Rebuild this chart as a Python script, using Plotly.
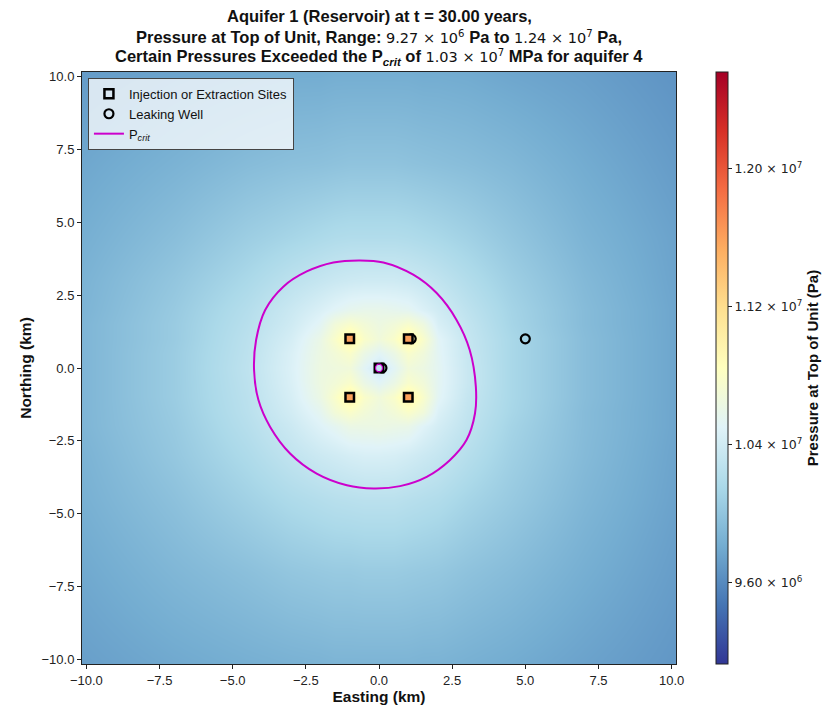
import plotly.graph_objects as go

# --- Pressure field at the top of aquifer 1, sampled on a grid (km) ---
grid_x = [-10.15, -7, -4.5, -3, -2, -1.5, -1, -0.5, 0, 0.5, 1, 1.5, 2, 3, 4.5, 7, 10.15]
grid_y = [-10.15, -7, -4.5, -3, -2, -1.5, -1, -0.5, 0, 0.5, 1, 1.5, 2, 3, 4.5, 7, 10.15]

# rows follow grid_y (south to north), columns follow grid_x (west to east); values in MPa
pressure_mpa = [
    [9.73, 9.79, 9.83, 9.85, 9.86, 9.87, 9.87, 9.87, 9.87, 9.87, 9.87, 9.86, 9.86, 9.84, 9.81, 9.75, 9.68],
    [9.79, 9.89, 9.96, 10.01, 10.03, 10.04, 10.04, 10.05, 10.05, 10.05, 10.04, 10.03, 10.02, 9.98, 9.93, 9.83, 9.72],
    [9.84, 9.97, 10.10, 10.18, 10.22, 10.24, 10.25, 10.26, 10.26, 10.26, 10.24, 10.22, 10.20, 10.13, 10.04, 9.89, 9.75],
    [9.86, 10.02, 10.18, 10.30, 10.37, 10.40, 10.43, 10.45, 10.45, 10.44, 10.41, 10.37, 10.33, 10.23, 10.09, 9.92, 9.76],
    [9.88, 10.04, 10.23, 10.37, 10.49, 10.55, 10.62, 10.62, 10.63, 10.61, 10.60, 10.50, 10.42, 10.29, 10.12, 9.93, 9.77],
    [9.88, 10.05, 10.25, 10.41, 10.55, 10.70, 10.78, 10.70, 10.64, 10.70, 10.78, 10.68, 10.47, 10.31, 10.14, 9.93, 9.77],
    [9.88, 10.06, 10.26, 10.44, 10.62, 10.78, 11.00, 10.78, 10.68, 10.78, 11.00, 10.77, 10.53, 10.33, 10.15, 9.94, 9.77],
    [9.88, 10.06, 10.27, 10.46, 10.64, 10.70, 10.78, 10.62, 10.52, 10.62, 10.77, 10.69, 10.54, 10.35, 10.15, 9.94, 9.77],
    [9.88, 10.06, 10.28, 10.47, 10.64, 10.66, 10.68, 10.52, 10.38, 10.52, 10.68, 10.63, 10.54, 10.35, 10.15, 9.94, 9.77],
    [9.88, 10.06, 10.27, 10.46, 10.63, 10.70, 10.78, 10.62, 10.52, 10.62, 10.77, 10.68, 10.53, 10.34, 10.15, 9.94, 9.77],
    [9.88, 10.05, 10.26, 10.43, 10.61, 10.78, 11.00, 10.78, 10.68, 10.78, 11.00, 10.77, 10.52, 10.33, 10.15, 9.94, 9.77],
    [9.88, 10.05, 10.24, 10.39, 10.53, 10.69, 10.77, 10.70, 10.64, 10.69, 10.76, 10.65, 10.45, 10.31, 10.13, 9.93, 9.77],
    [9.87, 10.04, 10.22, 10.36, 10.46, 10.52, 10.57, 10.59, 10.59, 10.57, 10.55, 10.47, 10.40, 10.28, 10.12, 9.93, 9.77],
    [9.86, 10.01, 10.16, 10.27, 10.33, 10.36, 10.38, 10.39, 10.39, 10.39, 10.37, 10.34, 10.30, 10.21, 10.08, 9.91, 9.76],
    [9.83, 9.95, 10.07, 10.13, 10.17, 10.19, 10.20, 10.20, 10.20, 10.20, 10.19, 10.17, 10.15, 10.10, 10.01, 9.87, 9.75],
    [9.78, 9.86, 9.93, 9.96, 9.97, 9.98, 9.99, 9.99, 9.99, 9.99, 9.98, 9.97, 9.96, 9.94, 9.90, 9.81, 9.71],
    [9.71, 9.76, 9.79, 9.81, 9.81, 9.82, 9.82, 9.82, 9.82, 9.82, 9.82, 9.81, 9.81, 9.80, 9.77, 9.73, 9.66],
]

# --- Wells ---
site_x = [-1, 1, -1, 1, 0]
site_y = [1, 1, -1, -1, 0]
site_pressure = [1.16e7, 1.16e7, 1.16e7, 1.16e7, 1.03e7]

leak_x = [0.1, 1.1, 5.0]
leak_y = [0.0, 1.0, 1.0]

# --- Critical pressure contour (P_crit = 1.03e7 Pa) ---
pcrit_x = [-0.65, 0.15, 1.17, 1.97, 2.65, 3.10, 3.31, 3.28, 2.99, 2.42, 1.63, 0.72,
           -0.19, -1.10, -2.13, -3.04, -3.72, -4.12, -4.27, -4.20, -3.89, -3.27,
           -2.47, -1.56, -0.65]
pcrit_y = [3.69, 3.62, 3.20, 2.57, 1.65, 0.62, -0.64, -1.56, -2.47, -3.16, -3.73,
           -4.05, -4.13, -4.02, -3.62, -2.93, -2.02, -1.10, -0.07, 0.96, 1.99,
           2.79, 3.31, 3.62, 3.69]
# small closed contour around the extraction well
pcrit_inner_x = [0.12, 0.08, 0.0, -0.08, -0.12, -0.08, 0.0, 0.08, 0.12]
pcrit_inner_y = [0.0, 0.10, 0.13, 0.10, 0.0, -0.10, -0.13, -0.10, 0.0]

# colour bar
cbar_min, cbar_max = 9.13e6, 1.256e7
cbar_ticks = [9.6e6, 1.04e7, 1.12e7, 1.2e7]
cbar_labels = ["9.60 × 10<sup>6</sup>", "1.04 × 10<sup>7</sup>",
               "1.12 × 10<sup>7</sup>", "1.20 × 10<sup>7</sup>"]

axis_ticks = [-10, -7.5, -5, -2.5, 0, 2.5, 5, 7.5, 10]

TEXT = "Liberation Sans, Arial, sans-serif"
MATH = "DejaVu Sans, sans-serif"
MAGENTA = "#cc00cc"

pressure_pa = [[v * 1e6 for v in row] for row in pressure_mpa]

fig = go.Figure()

fig.add_trace(go.Heatmap(
    x=grid_x, y=grid_y, z=pressure_pa, zsmooth="best",
    coloraxis="coloraxis", showlegend=False, hoverinfo="skip",
))

fig.add_trace(go.Scatter(
    x=pcrit_x, y=pcrit_y, mode="lines", line=dict(color=MAGENTA, width=2, shape="spline"),
    showlegend=False, hoverinfo="skip",
))

fig.add_trace(go.Scatter(
    x=leak_x, y=leak_y, mode="markers",
    marker=dict(symbol="circle-open", size=9, color="black", line=dict(width=2.2, color="black")),
    showlegend=False,
))

fig.add_trace(go.Scatter(
    x=site_x, y=site_y, mode="markers",
    marker=dict(symbol="square", size=8.5, color=site_pressure, coloraxis="coloraxis",
                line=dict(width=2.5, color="black")),
    showlegend=False,
))

fig.add_trace(go.Scatter(
    x=pcrit_inner_x, y=pcrit_inner_y, mode="lines",
    line=dict(color=MAGENTA, width=1.2, shape="spline"),
    showlegend=False, hoverinfo="skip",
))

# legend entries
fig.add_trace(go.Scatter(
    x=[None], y=[None], mode="markers", name="Injection or Extraction Sites",
    marker=dict(symbol="square-open", size=9, color="black", line=dict(width=2.5, color="black")),
))
fig.add_trace(go.Scatter(
    x=[None], y=[None], mode="markers", name="Leaking Well",
    marker=dict(symbol="circle-open", size=9, color="black", line=dict(width=2.2, color="black")),
))
fig.add_trace(go.Scatter(
    x=[None], y=[None], mode="lines", name="P<sub><i>crit</i></sub>",
    line=dict(color=MAGENTA, width=2),
))

axis_common = dict(
    range=[-10.15, 10.15], tickvals=axis_ticks, tickformat=".1f",
    ticks="outside", ticklen=4, tickcolor="#222", tickfont=dict(family=TEXT, size=13, color="#222"),
    showline=True, linecolor="#222", linewidth=1, mirror=True,
    showgrid=False, zeroline=False,
)

fig.update_layout(
    width=826, height=707,
    margin=dict(l=82, r=150, t=72, b=43, autoexpand=False),
    paper_bgcolor="white", plot_bgcolor="white",
    font=dict(family=TEXT, size=12, color="#111"),
    xaxis=dict(**axis_common, title=dict(text="<b>Easting (km)</b>", font=dict(size=15.5, family=TEXT), standoff=3)),
    yaxis=dict(**axis_common, title=dict(text="<b>Northing (km)</b>", font=dict(size=15.5, family=TEXT), standoff=6)),
    coloraxis=dict(
        colorscale="RdYlBu", reversescale=True, cmin=cbar_min, cmax=cbar_max,
        colorbar=dict(
            x=1.0675, xanchor="left", xref="paper", y=0.5, yanchor="middle",
            len=1, lenmode="fraction", thickness=12, ypad=0, xpad=0,
            outlinecolor="#222", outlinewidth=1,
            tickvals=cbar_ticks, ticktext=cbar_labels, ticks="outside", ticklen=4, tickcolor="#222",
            tickfont=dict(family=MATH, size=12.5, color="#222"),
            title=dict(text="<b>Pressure at Top of Unit (Pa)</b>", side="right",
                       font=dict(family=TEXT, size=15, color="#111")),
        ),
    ),
    legend=dict(
        x=0.01, y=0.99, xanchor="left", yanchor="top",
        bgcolor="rgba(255,255,255,0.75)", bordercolor="#444", borderwidth=1,
        font=dict(family=TEXT, size=13, color="#111"), tracegroupgap=0,
    ),
)

def m(s):
    return f'<span style="font-family:{MATH};font-weight:normal;font-size:14.5px">{s}</span>'

title_lines = [
    "<b>Aquifer 1 (Reservoir) at t = 30.00 years,</b>",
    "<b>Pressure at Top of Unit, Range: </b>" + m("9.27 × 10<sup>6</sup>")
    + "<b> Pa to </b>" + m("1.24 × 10<sup>7</sup>") + "<b> Pa,</b>",
    "<b>Certain Pressures Exceeded the P<sub><i>crit</i></sub> of </b>" + m("1.03 × 10<sup>7</sup>")
    + "<b> MPa for aquifer 4</b>",
]
title_y = [1.0946, 1.0591, 1.0253]
for txt, yy in zip(title_lines, title_y):
    fig.add_annotation(
        text=txt, x=0.5, y=yy, xref="paper", yref="paper",
        xanchor="center", yanchor="middle", showarrow=False,
        font=dict(family=TEXT, size=16.5, color="#111"),
    )

fig.write_html("out.html")
